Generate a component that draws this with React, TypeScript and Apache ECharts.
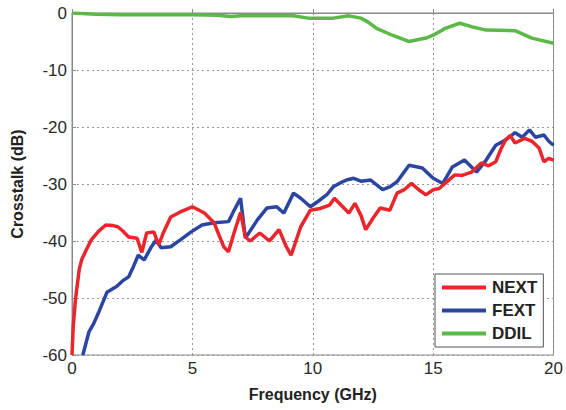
import React, { useEffect, useRef } from "react";
import * as echarts from "echarts";

const xTicks = [0, 5, 10, 15, 20];
const yTicks = [0, -10, -20, -30, -40, -50, -60];

const nextFreq = [0, 0.05, 0.15, 0.3, 0.4, 0.6, 0.8, 1.1, 1.4, 1.7, 1.9, 2.1, 2.35, 2.7, 2.9, 3.1, 3.4, 3.6, 3.8, 4.1, 4.5, 5.0, 5.5, 5.9, 6.3, 6.5, 6.7, 7.0, 7.2, 7.4, 7.8, 8.2, 8.6, 8.9, 9.1, 9.5, 9.9, 10.3, 10.7, 10.9, 11.2, 11.5, 11.75, 12.0, 12.2, 12.5, 12.8, 13.2, 13.5, 13.8, 14.1, 14.4, 14.7, 15.0, 15.25, 15.6, 15.9, 16.2, 16.6, 17.0, 17.3, 17.6, 17.8, 18.0, 18.2, 18.4, 18.8, 19.1, 19.4, 19.6, 19.8, 20];
const nextDb = [-60, -55, -50, -45, -43.3, -41.5, -39.8, -38.3, -37.2, -37.3, -37.5, -38.2, -39.3, -39.5, -42, -38.6, -38.4, -40.7, -38.5, -35.8, -34.9, -34, -35.1, -36.8, -41, -41.9, -39, -35, -39.3, -40, -38.6, -40, -38, -41, -42.5, -37.5, -34.6, -34.3, -33.7, -32.5, -33.8, -35.1, -33.4, -35.5, -38, -36, -34.2, -34.6, -31.6, -31, -29.9, -31, -31.9, -31, -30.8, -29.5, -28.4, -28.5, -27.9, -26.3, -26.8, -26.1, -24, -22.3, -21.5, -22.8, -22, -22.5, -23.7, -26.1, -25.5, -25.8];

const fextFreq = [0.45, 0.7, 0.9, 1.1, 1.45, 1.85, 2.1, 2.35, 2.55, 2.75, 3.0, 3.3, 3.5, 3.7, 4.1, 4.5, 4.95, 5.4, 5.9, 6.5, 6.7, 7.0, 7.2, 7.7, 8.1, 8.5, 8.8, 9.2, 9.5, 9.9, 10.3, 10.6, 10.85, 11.1, 11.4, 11.7, 12.0, 12.4, 12.9, 13.2, 13.5, 14.0, 14.55, 15.0, 15.4, 15.8, 16.3, 16.8, 17.2, 17.6, 18.0, 18.4, 18.7, 19.0, 19.25, 19.6, 19.8, 20];
const fextDb = [-60, -56, -54.5, -52.6, -49, -48, -47, -46.3, -44.5, -42.5, -43.3, -41, -39.8, -41.2, -41, -39.8, -38.4, -37.2, -36.8, -36.6, -34.9, -32.5, -39.5, -36.3, -34.2, -34, -35.1, -31.6, -32.5, -34, -32.8, -31.8, -30.5, -29.9, -29.3, -29, -29.5, -29.3, -31, -30.5, -29.6, -26.7, -27.2, -29, -29.9, -27, -25.8, -27.9, -25.8, -23.2, -22.3, -21, -21.8, -20.5, -21.8, -21.4, -22.5, -23.2];

const ddilFreq = [0, 1, 2, 3, 4, 5, 6, 6.6, 7, 8, 9.2, 9.8, 10, 10.85, 11.5, 12, 12.3, 12.65, 13.3, 14.0, 14.7, 15.0, 15.5, 16.1, 16.6, 17.2, 18.4, 19.1, 20];
const ddilDb = [0, -0.2, -0.3, -0.3, -0.3, -0.3, -0.4, -0.6, -0.5, -0.5, -0.5, -0.9, -0.9, -0.9, -0.5, -0.9, -1.6, -2.7, -3.9, -5, -4.4, -3.9, -2.7, -1.8, -2.4, -3, -3.1, -4.4, -5.3];

const seriesNames = ["NEXT", "FEXT", "DDIL"];
const seriesColors = ["#e8262b", "#2b45a3", "#5cb948"];

const pairs = (xs: number[], ys: number[]) => xs.map((x, i) => [x, ys[i]]);

export default function App() {
  const ref = useRef<HTMLDivElement>(null);
  useEffect(() => {
    if (!ref.current) return;
    const chart = echarts.init(ref.current, undefined, { renderer: "svg" });
    const data = [pairs(nextFreq, nextDb), pairs(fextFreq, fextDb), pairs(ddilFreq, ddilDb)];
    chart.setOption({
      animation: false,
      backgroundColor: "#ffffff",
      grid: {
        left: 72,
        right: 12,
        top: 13,
        bottom: 55,
        show: true,
        borderColor: "#888",
        borderWidth: 1,
      },
      xAxis: {
        type: "value",
        min: xTicks[0],
        max: xTicks[xTicks.length - 1],
        interval: 5,
        name: "Frequency (GHz)",
        nameLocation: "middle",
        nameGap: 31,
        nameTextStyle: { fontFamily: "Liberation Sans, Arial", fontWeight: "bold", fontSize: 16, color: "#222" },
        axisLine: { show: true, lineStyle: { color: "#888" } },
        axisTick: { show: true, inside: true, length: 4, lineStyle: { color: "#888" } },
        axisLabel: { fontFamily: "Liberation Sans, Arial", fontSize: 17, color: "#2a2a2a", margin: 5 },
        splitLine: { show: true, lineStyle: { color: "#999", type: [2, 3], width: 1 } },
      },
      yAxis: {
        type: "value",
        min: yTicks[yTicks.length - 1],
        max: yTicks[0],
        interval: 10,
        name: "Crosstalk (dB)",
        nameLocation: "middle",
        nameGap: 47,
        nameRotate: 90,
        nameTextStyle: { fontFamily: "Liberation Sans, Arial", fontWeight: "bold", fontSize: 16, color: "#222" },
        axisLine: { show: true, lineStyle: { color: "#888" } },
        axisTick: { show: true, inside: true, length: 4, lineStyle: { color: "#888" } },
        axisLabel: { fontFamily: "Liberation Sans, Arial", fontSize: 17, color: "#2a2a2a", margin: 5 },
        splitLine: { show: true, lineStyle: { color: "#999", type: [2, 3], width: 1 } },
      },
      legend: {
        orient: "vertical",
        left: 435,
        top: 274,
        width: 113,
        data: seriesNames,
        icon: "rect",
        itemWidth: 44,
        itemHeight: 4,
        itemGap: 6,
        padding: [5, 6, 5, 7],
        backgroundColor: "#fff",
        borderColor: "#555",
        borderWidth: 1,
        borderRadius: 0,
        textStyle: { fontFamily: "Liberation Sans, Arial", fontWeight: "bold", fontSize: 17, color: "#222", padding: [0, 0, 0, 1] },
      },
      series: seriesNames.map((name, i) => ({
        name,
        type: "line",
        data: data[i],
        showSymbol: false,
        symbol: "none",
        lineStyle: { color: seriesColors[i], width: 3.5 },
        itemStyle: { color: seriesColors[i] },
        z: 3 - i,
      })),
    });
    return () => chart.dispose();
  }, []);
  return <div ref={ref} style={{ width: 566, height: 410, position: "absolute", left: 0, top: 0 }} />;
}
